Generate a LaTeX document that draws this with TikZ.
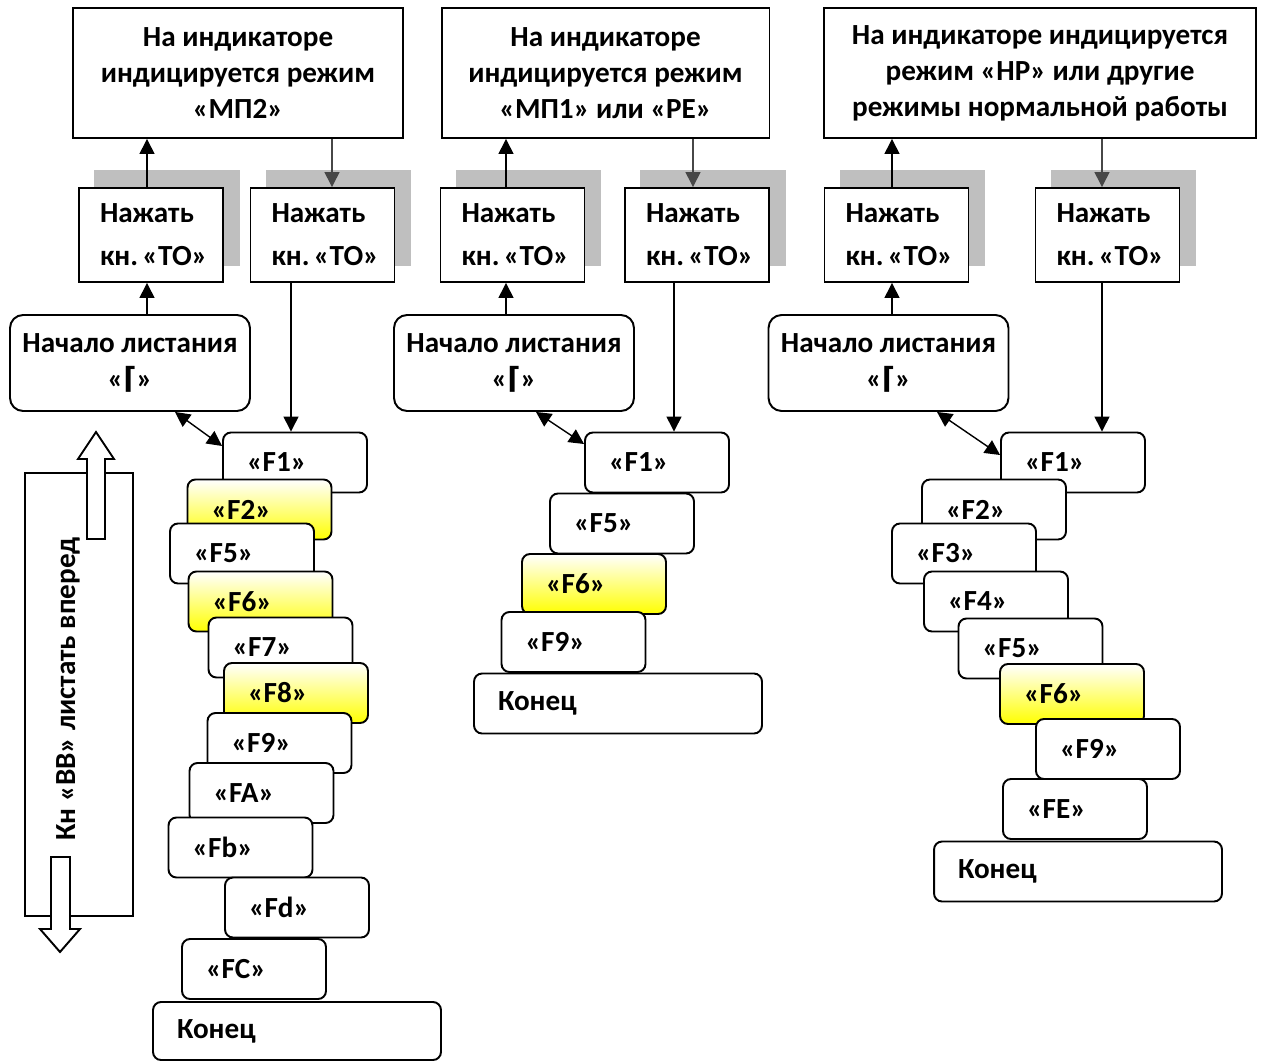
\documentclass[tikz,border=0pt]{standalone}
\usepackage{fontspec}
\setmainfont{Carlito}
\newfontfamily\symfont{DejaVu Sans}
\usetikzlibrary{arrows.meta,backgrounds,calc}
\frenchspacing

\tikzset{
  topbox/.style={draw, line width=1.1pt, fill=white, minimum height=2.6cm, align=center},
  pressbox/.style={draw, line width=1.1pt, fill=white, minimum width=2.88cm, minimum height=1.88cm,
    inner xsep=0.42cm, text width=2.04cm, align=left, font=\bfseries\fontsize{16.6}{24.4}\selectfont},
  startbox/.style={draw, line width=1.1pt, fill=white, rounded corners=0.26cm, minimum width=4.8cm,
    minimum height=1.92cm, align=center},
  fbox/.style={draw, line width=1.1pt, fill=white, rounded corners=0.16cm, minimum width=2.88cm,
    minimum height=1.2cm, inner xsep=0.48cm, text width=1.92cm, align=left},
  fyel/.style={fbox, top color=white, bottom color=yellow},
  endbox/.style={fbox, minimum width=5.76cm, text width=4.8cm},
  shadowbox/.style={fill=black!25},
  arr/.style={line width=0.8pt, -{Triangle[length=0.3cm,width=0.3cm]}},
  garr/.style={arr, color=black!72},
  darr/.style={line width=0.8pt, {Triangle[length=0.3cm,width=0.3cm]}-{Triangle[length=0.3cm,width=0.3cm]}},
  blockarr/.style={draw, line width=1.1pt, fill=white}
}
\newcommand{\gam}{{\symfont\bfseries ⌈}}
\newcommand{\knto}{\mbox{кн.\hspace{0.15em}«ТО»}}

\begin{document}
\begin{tikzpicture}[x=0.02cm, y=-0.02cm, font=\bfseries\fontsize{16.6}{20.4}\selectfont]
\useasboundingbox (0,0) rectangle (1262,1061);

% top boxes
\node (T1) at (238,73) [topbox, minimum width=6.6cm] {На индикаторе\\индицируется режим\\«МП2»};
\node (T2) at (605.5,73) [topbox, minimum width=6.56cm] {На индикаторе\\индицируется режим\\«МП1» или «РЕ»};
\node (T3) at (1040,73) [topbox, minimum width=8.64cm] {На индикаторе индицируется\\режим «НР» или другие\\режимы нормальной работы};

% press buttons
\node (N1a) at (151,235) [pressbox] {Нажать\\\knto};
\node (N1b) at (322.5,235) [pressbox] {Нажать\\\knto};
\node (N2a) at (512.5,235) [pressbox] {Нажать\\\knto};
\node (N2b) at (697,235) [pressbox] {Нажать\\\knto};
\node (N3a) at (896.5,235) [pressbox] {Нажать\\\knto};
\node (N3b) at (1107.5,235) [pressbox] {Нажать\\\knto};

\begin{scope}[on background layer]
\foreach \b in {N1a,N1b,N2a,N2b,N3a,N3b}
  \fill[shadowbox] ($(\b.south west)+(16,-17)$) rectangle ($(\b.north east)+(16,-17)$);
\end{scope}

% start of listing
\node (S1) at (130,363) [startbox] {Начало листания\\«\gam»};
\node (S2) at (514,363) [startbox] {Начало листания\\«\gam»};
\node (S3) at (888.5,363) [startbox] {Начало листания\\«\gam»};

% first column
\node (a1) at (295,462.5) [fbox] {«F1»};
\node (a2) at (259.5,509.5) [fyel] {«F2»};
\node (a5) at (242,553.5) [fbox] {«F5»};
\node (a6) at (260.5,601.5) [fyel] {«F6»};
\node (a7) at (280.5,647.5) [fbox] {«F7»};
\node (a8) at (296,693) [fyel] {«F8»};
\node (a9) at (279.5,743) [fbox] {«F9»};
\node (aA) at (261.5,793) [fbox] {«FA»};
\node (ab) at (240.5,847.5) [fbox] {«Fb»};
\node (ad) at (297,907.5) [fbox] {«Fd»};
\node (aC) at (254,969) [fbox] {«FC»};
\node (aend) at (297,1031) [endbox, minimum height=1.16cm] {Конец};

% second column
\node (b1) at (657,462.5) [fbox] {«F1»};
\node (b5) at (622,523.5) [fbox] {«F5»};
\node (b6) at (594,584) [fyel] {«F6»};
\node (b9) at (573.5,642) [fbox] {«F9»};
\node (bend) at (618,703.5) [endbox] {Конец};

% third column
\node (c1) at (1073,462.5) [fbox] {«F1»};
\node (c2) at (994,509.5) [fbox] {«F2»};
\node (c3) at (964,553.5) [fbox] {«F3»};
\node (c4) at (996,601.5) [fbox] {«F4»};
\node (c5) at (1030.5,648.5) [fbox] {«F5»};
\node (c6) at (1072,694) [fyel] {«F6»};
\node (c9) at (1108,749) [fbox] {«F9»};
\node (cE) at (1075,809) [fbox] {«FE»};
\node (cend) at (1078,871.5) [endbox] {Конец};

% connectors
\draw[arr] (S1.north -| 147,0) -- (N1a.south -| 147,0);
\draw[arr] (N1a.north -| 147,0) -- (T1.south -| 147,0);
\draw[garr] (T1.south -| 332,0) -- (N1b.north -| 332,0);
\draw[arr] (N1b.south -| 291,0) -- (a1.north -| 291,0);
\draw[darr] (S1.south -| 175,0) -- (a1.west |- 0,446);

\draw[arr] (S2.north -| 506,0) -- (N2a.south -| 506,0);
\draw[arr] (N2a.north -| 506,0) -- (T2.south -| 506,0);
\draw[garr] (T2.south -| 693,0) -- (N2b.north -| 693,0);
\draw[arr] (N2b.south -| 674,0) -- (b1.north -| 674,0);
\draw[darr] (S2.south -| 536,0) -- (b1.west |- 0,444);

\draw[arr] (S3.north -| 892,0) -- (N3a.south -| 892,0);
\draw[arr] (N3a.north -| 892,0) -- (T3.south -| 892,0);
\draw[garr] (T3.south -| 1102,0) -- (N3b.north -| 1102,0);
\draw[arr] (N3b.south -| 1102,0) -- (c1.north -| 1102,0);
\draw[darr] (S3.south -| 937,0) -- (c1.west |- 0,455);

% forward key
\draw[line width=1.1pt] (25,473) rectangle (133,916);
\draw[blockarr] (87,539) -- (87,459) -- (78,459) -- (96,432) -- (114,459) -- (105,459) -- (105,539) -- cycle;
\draw[blockarr] (51,857) -- (70,857) -- (70,929) -- (80,929) -- (60,952) -- (40,929) -- (51,929) -- cycle;
\node (vk) at (68,689) [rotate=90] {Кн «ВВ» листать вперед};
\end{tikzpicture}
\end{document}
